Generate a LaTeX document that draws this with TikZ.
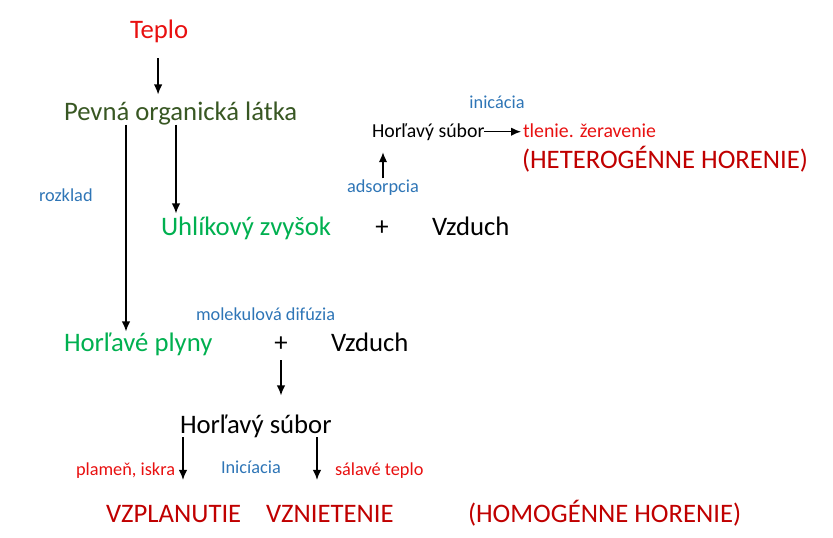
\documentclass[tikz,border=0pt]{standalone}
\usepackage{fontspec}
\setmainfont{Carlito}
\usetikzlibrary{arrows.meta,calc}
\definecolor{cred}{HTML}{E81010}
\definecolor{cdarkred}{HTML}{C00000}
\definecolor{cblue}{HTML}{2E75B6}
\definecolor{cgreen}{HTML}{00B050}
\definecolor{cdarkgreen}{HTML}{385723}
\begin{document}
\begin{tikzpicture}[x=1pt,y=-1pt,
  txt/.style={inner sep=0pt, outer sep=0pt, anchor=base west},
  big/.style={txt, font=\fontsize{26.7}{30}\selectfont},
  mid/.style={txt, font=\fontsize{19.8}{24}\selectfont},
  small/.style={txt, font=\fontsize{18.3}{22}\selectfont},
  arr/.style={line width=1.4pt, -{Latex[length=10pt,width=8.5pt]}}]
\useasboundingbox (0,0) rectangle (833,538);
% nodes
\node[big, text=cred] (teplo) at (130,38) {Teplo};
\node[big, text=cdarkgreen] (pevna) at (64,120) {Pevná organická látka};
\node[small, text=cblue] (rozklad) at (39,201) {rozklad};
\node[big, text=cgreen] (uhl) at (161,235) {Uhlíkový zvyšok};
\node[big, anchor=base] (plus1) at (382,235) {+};
\node[big] (vz1) at (432,235) {Vzduch};
\node[small, text=cblue, anchor=base] (ads) at (383,192) {adsorpcia};
\node[mid] (hs1) at (372,137) {Horľavý súbor};
\node[mid, text=cred] (tlenie) at (523,137) {tlenie. žeravenie};
\node[small, text=cblue, anchor=base] (inic) at (497,108) {inicácia};
\node[big, text=cdarkred] (het) at (522,168) {(HETEROGÉNNE HORENIE)};
\node[small, text=cblue] (mol) at (196,320) {molekulová difúzia};
\node[big, text=cgreen] (plyny) at (64,351) {Horľavé plyny};
\node[big, anchor=base] (plus2) at (281,351) {+};
\node[big] (vz2) at (331,351) {Vzduch};
\node[big] (hs2) at (180,433) {Horľavý súbor};
\node[small, text=cred] (plamen) at (76,475) {plameň, iskra};
\node[small, text=cblue] (inic2) at (221,473) {Inicíacia};
\node[small, text=cred] (salave) at (335,475) {sálavé teplo};
\node[big, text=cdarkred] (vzpl) at (106,522) {VZPLANUTIE};
\node[big, text=cdarkred] (vzniet) at (266,522) {VZNIETENIE};
\node[big, text=cdarkred] (homo) at (468,522) {(HOMOGÉNNE HORENIE)};
% arrows
\draw[arr] ($(teplo.south)+(-1,16)$) -- ($(pevna.north -| teplo.south)+(-1,-7)$);
\draw[arr] ($(pevna.south west)+(62,0)$) -- ($(plyny.north west)+(62,-1)$);
\draw[arr] ($(pevna.south west)+(112,0)$) -- ($(uhl.north west)+(15,-3)$);
\draw[arr] ($(ads.north)+(0,-1)$) -- ($(ads.north |- hs1.south)+(0,12)$);
\draw[arr] (hs1.east) -- ($(hs1.east -| tlenie.west)+(-2,0)$);
\draw[arr] ($(plus2.south)+(0,9)$) -- ($(hs2.north -| plus2.south)+(0,-19)$);
\draw[arr] ($(hs2.south west)+(3,0)$) -- ($(vzpl.north -| hs2.south west)+(3,-25)$);
\draw[arr] ($(hs2.south west)+(137,0)$) -- ($(vzniet.north -| hs2.south west)+(137,-25)$);
\end{tikzpicture}
\end{document}
